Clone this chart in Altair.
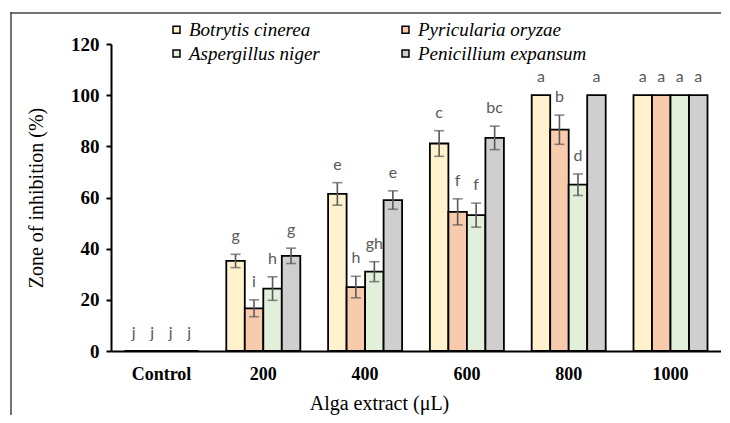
import altair as alt
import pandas as pd

doses = ["Control", "200", "400", "600", "800", "1000"]
fungi = ["Botrytis cinerea", "Pyricularia oryzae", "Aspergillus niger", "Penicillium expansum"]
colors = ["#FFF2CC", "#F8CBAD", "#E2EFDA", "#D0CECE"]

botrytis = [0, 35.2, 61.4, 81.1, 100, 100]
pyricularia = [0, 16.7, 25.0, 54.4, 86.5, 100]
aspergillus = [0, 24.4, 31.0, 53.1, 65.0, 100]
penicillium = [0, 37.2, 59.0, 83.3, 100, 100]

botrytis_err = [0, 2.6, 4.4, 5.0, 0, 0]
pyricularia_err = [0, 3.3, 4.2, 5.1, 5.7, 0]
aspergillus_err = [0, 4.6, 3.9, 4.7, 4.2, 0]
penicillium_err = [0, 3.0, 3.6, 4.6, 0, 0]

botrytis_lbl = ["j", "g", "e", "c", "a", "a"]
pyricularia_lbl = ["j", "i", "h", "f", "b", "a"]
aspergillus_lbl = ["j", "h", "gh", "f", "d", "a"]
penicillium_lbl = ["j", "g", "e", "bc", "a", "a"]

series = [
    (fungi[0], botrytis, botrytis_err, botrytis_lbl),
    (fungi[1], pyricularia, pyricularia_err, pyricularia_lbl),
    (fungi[2], aspergillus, aspergillus_err, aspergillus_lbl),
    (fungi[3], penicillium, penicillium_err, penicillium_lbl),
]
rows = []
for name, vals, errs, lbls in series:
    for d, v, e, l in zip(doses, vals, errs, lbls):
        rows.append({"dose": d, "fungus": name, "value": v, "err": e,
                     "lo": v - e, "hi": v + e, "label": l})
df = pd.DataFrame(rows)

SERIF = "Liberation Serif"

x_enc = alt.X("dose:N", sort=doses, title="Alga extract (μL)",
              scale=alt.Scale(paddingInner=0.273, paddingOuter=0.1325),
              axis=alt.Axis(labelAngle=0, ticks=False, titleX=268))
xo_enc = alt.XOffset("fungus:N", sort=fungi, scale=alt.Scale(paddingInner=0, paddingOuter=0))
y_scale = alt.Scale(domain=[0, 120], nice=False)
Y_TITLE = "Zone of inhibition (%)"

base = alt.Chart(df)

bars = base.mark_bar(stroke="black", strokeWidth=1.8).encode(
    x=x_enc,
    xOffset=xo_enc,
    y=alt.Y("value:Q", scale=y_scale, title=Y_TITLE,
            axis=alt.Axis(values=[0, 20, 40, 60, 80, 100, 120])),
    fill=alt.Fill("fungus:N", sort=fungi,
                  scale=alt.Scale(domain=fungi, range=colors),
                  legend=alt.Legend(title=None, orient="none", legendX=56, legendY=-24,
                                    columns=2,
                                    values=[fungi[0], fungi[2], fungi[1], fungi[3]])),
)

eb = base.transform_filter("datum.err > 0")
xe = alt.X("dose:N", sort=doses, title="Alga extract (μL)")
rule = eb.mark_rule(color="#595959", strokeWidth=1.6).encode(
    x=xe, xOffset=xo_enc, y=alt.Y("lo:Q", scale=y_scale, title=Y_TITLE), y2="hi:Q")
cap_hi = eb.mark_tick(color="#595959", thickness=1.6, size=10).encode(
    x=xe, xOffset=xo_enc, y=alt.Y("hi:Q", scale=y_scale, title=Y_TITLE))
cap_lo = eb.mark_tick(color="#595959", thickness=1.6, size=10).encode(
    x=xe, xOffset=xo_enc, y=alt.Y("lo:Q", scale=y_scale, title=Y_TITLE))

text = base.mark_text(font="Lato", fontSize=16, color="#595959",
                      baseline="alphabetic", dy=-13).encode(
    x=xe, xOffset=xo_enc, y=alt.Y("hi:Q", scale=y_scale, title=Y_TITLE),
    text="label:N")

frame_data = alt.Data(values=[{}])
frame_left = alt.Chart(frame_data).mark_rect(fill="#444").encode(
    x=alt.value(-100.75), x2=alt.value(-99.25), y=alt.value(-31.75), y2=alt.value(420))
frame_top = alt.Chart(frame_data).mark_rect(fill="#444").encode(
    x=alt.value(-100.75), x2=alt.value(760), y=alt.value(-31.75), y2=alt.value(-30.25))

chart = alt.layer(frame_left, frame_top, bars, rule, cap_hi, cap_lo, text).properties(
    width=610, height=307,
    autosize=alt.AutoSizeParams(type="none"),
    padding={"left": 103, "top": 36, "right": 0, "bottom": 64},
).configure_view(stroke=None).configure_axis(
    grid=False, domainColor="black", domainWidth=2,
    labelFont=SERIF, labelFontWeight="bold", labelColor="black",
    titleFont=SERIF, titleFontWeight="normal", titleFontSize=20, titleColor="black",
).configure_axisX(
    labelFontSize=18, labelPadding=14, titlePadding=10,
).configure_axisY(
    labelFontSize=19, labelPadding=7, tickSize=5, tickColor="black", tickWidth=2,
    titlePadding=24,
).configure_legend(
    columnPadding=76, rowPadding=4, symbolType="square", symbolSize=49,
    symbolStrokeColor="black", symbolStrokeWidth=1.5,
    labelFont=SERIF, labelFontStyle="italic", labelFontSize=19, labelColor="black",
    labelOffset=3, labelLimit=400, padding=0,
)

chart.save("out.html", embed_options={"renderer": "svg", "actions": False})
